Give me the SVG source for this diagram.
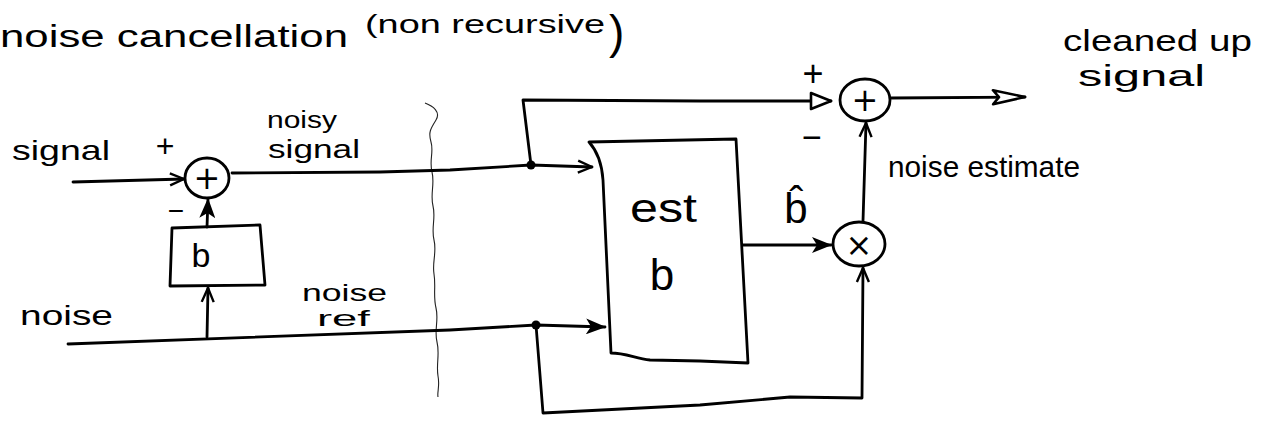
<svg xmlns="http://www.w3.org/2000/svg" width="1267" height="433" viewBox="0 0 1267 433">
  <style>
    .ink { fill: none; stroke: #000; stroke-width: 2.8; stroke-linecap: round; stroke-linejoin: round; }
    .thin { fill: none; stroke: #222; stroke-width: 1.1; }
    .lbl { font-family: "Liberation Sans", "DejaVu Sans", sans-serif; fill: #000; }
    .sym { font-family: "DejaVu Sans", "Liberation Sans", sans-serif; fill: #000; text-anchor: middle; }
    .dot { fill: #000; }
  </style>
  <defs>
    <marker id="solid" viewBox="0 0 20 16" refX="19" refY="8" markerWidth="20" markerHeight="16" markerUnits="userSpaceOnUse" orient="auto">
      <path d="M0,0 L20,8 L0,16 L5,8 z" fill="#000"/>
    </marker>
    <marker id="vee" viewBox="-2 -2 18 16" refX="14" refY="6" markerWidth="18" markerHeight="16" markerUnits="userSpaceOnUse" orient="auto">
      <path d="M0,0 L14,6 L0,12" fill="none" stroke="#000" stroke-width="2.4" stroke-linejoin="round"/>
    </marker>
    <marker id="tri" viewBox="-2 -2 24 20" refX="20" refY="8" markerWidth="24" markerHeight="20" markerUnits="userSpaceOnUse" orient="auto">
      <path d="M0,0 L20,8 L0,16 z" fill="#fff" stroke="#000" stroke-width="2.6" stroke-linejoin="round"/>
    </marker>
    <marker id="triLong" viewBox="-2 -2 36 18" refX="32" refY="7" markerWidth="36" markerHeight="18" markerUnits="userSpaceOnUse" orient="auto">
      <path d="M0,0 L32,7 L0,14 L6,7 z" fill="#fff" stroke="#000" stroke-width="2.6" stroke-linejoin="round"/>
    </marker>
  </defs>

  <!-- title -->
  <g id="title">
    <text class="lbl" x="0" y="47" font-size="31" textLength="348" lengthAdjust="spacingAndGlyphs">noise cancellation</text>
    <text class="lbl" x="365" y="33" font-size="25" textLength="240" lengthAdjust="spacingAndGlyphs">(non recursive</text>
    <text class="lbl" x="609" y="48" font-size="46" font-weight="300">)</text>
  </g>

  <!-- dividing line between plant and canceller -->
  <path id="divider" class="thin" d="M425,103 C433,106 441,112 436,120 C431,128 428,132 431,142 C434,152 429,160 432,172 C435,184 430,194 433,206 C436,218 431,228 434,240 C437,252 432,262 434,274 C436,286 433,296 436,308 C439,320 434,330 437,342 C440,354 436,364 438,376 C440,386 437,392 438,397"/>

  <!-- connectors -->
  <g id="connectors">
    <path class="ink" d="M73,182 L184,179" marker-end="url(#vee)"/>
    <path class="ink" d="M232,173 L380,172 L450,170 L531,165 L592,167" marker-end="url(#vee)"/>
    <path class="ink" d="M531,165 L523,100 L700,101 L831,101" marker-end="url(#tri)"/>
    <path class="ink" d="M68,344 L450,330 L536,325 L605,327" marker-end="url(#solid)"/>
    <path class="ink" d="M207,337 L208,288" marker-end="url(#vee)"/>
    <path class="ink" d="M207,227 L208,199" marker-end="url(#solid)"/>
    <path class="ink" d="M536,325 L540,375 L543,413 L700,405 L790,397 L862,398 L863,268" marker-end="url(#vee)"/>
    <path class="ink" d="M743,245 L831,245" marker-end="url(#solid)"/>
    <path class="ink" d="M863,221 L866,123" marker-end="url(#vee)"/>
    <path class="ink" d="M891,98 L1025,97" marker-end="url(#triLong)"/>
    <circle class="dot" cx="531" cy="165" r="4.5"/>
    <circle class="dot" cx="536" cy="325" r="4.5"/>
  </g>

  <!-- input labels -->
  <g id="inputs">
    <text class="lbl" x="12" y="160" font-size="28" textLength="98" lengthAdjust="spacingAndGlyphs">signal</text>
    <text class="lbl" x="20" y="325" font-size="28" textLength="93" lengthAdjust="spacingAndGlyphs">noise</text>
    <text class="lbl" x="165" y="157" font-size="32" text-anchor="middle">+</text>
    <text class="lbl" x="176" y="220" font-size="28" text-anchor="middle">−</text>
  </g>

  <!-- summing junction of the plant -->
  <g id="sum-plant">
    <ellipse class="ink" cx="207" cy="178" rx="22" ry="20"/>
    <text class="sym" x="207" y="189" font-size="32">+</text>
  </g>

  <!-- gain b -->
  <g id="gain-b">
    <path class="ink" d="M172,228 L260,225 L265,285 L170,286 z"/>
    <text class="lbl" x="201" y="267" font-size="34" text-anchor="middle">b</text>
  </g>

  <!-- wire labels -->
  <g id="wire-labels">
    <text class="lbl" x="267" y="128" font-size="23" textLength="70" lengthAdjust="spacingAndGlyphs">noisy</text>
    <text class="lbl" x="268" y="158" font-size="26" textLength="92" lengthAdjust="spacingAndGlyphs">signal</text>
    <text class="lbl" x="302" y="301" font-size="24" textLength="85" lengthAdjust="spacingAndGlyphs">noise</text>
    <text class="lbl" x="317" y="326" font-size="22" textLength="53" lengthAdjust="spacingAndGlyphs">ref</text>
  </g>

  <!-- estimator block -->
  <g id="estimator">
    <path class="ink" d="M589,142 L736,139 L748,363 L700,361 L650,360 C635,358 625,353 611,353 L603,180 C602,165 598,152 589,142 z"/>
    <text class="lbl" x="630" y="222" font-size="40" textLength="67" lengthAdjust="spacingAndGlyphs">est</text>
    <text class="lbl" x="662" y="290" font-size="44" text-anchor="middle">b</text>
  </g>

  <!-- estimate of b -->
  <g id="b-hat">
    <text class="lbl" x="796" y="223" font-size="42" text-anchor="middle">b̂</text>
  </g>

  <!-- multiplier -->
  <g id="multiplier">
    <ellipse class="ink" cx="859" cy="244" rx="26" ry="22"/>
    <text class="sym" x="859" y="256" font-size="32">×</text>
  </g>

  <!-- output summing junction -->
  <g id="sum-out">
    <ellipse class="ink" cx="865" cy="100" rx="25" ry="21"/>
    <text class="sym" x="865" y="111" font-size="32">+</text>
    <text class="lbl" x="813" y="86" font-size="36" text-anchor="middle">+</text>
    <text class="lbl" x="812" y="149" font-size="34" text-anchor="middle">−</text>
  </g>

  <!-- output labels -->
  <g id="outputs">
    <text class="lbl" x="888" y="177" font-size="30" textLength="192" lengthAdjust="spacingAndGlyphs">noise estimate</text>
    <text class="lbl" x="1063" y="51" font-size="30" textLength="189" lengthAdjust="spacingAndGlyphs">cleaned up</text>
    <text class="lbl" x="1078" y="86" font-size="29" textLength="127" lengthAdjust="spacingAndGlyphs">signal</text>
  </g>
</svg>
